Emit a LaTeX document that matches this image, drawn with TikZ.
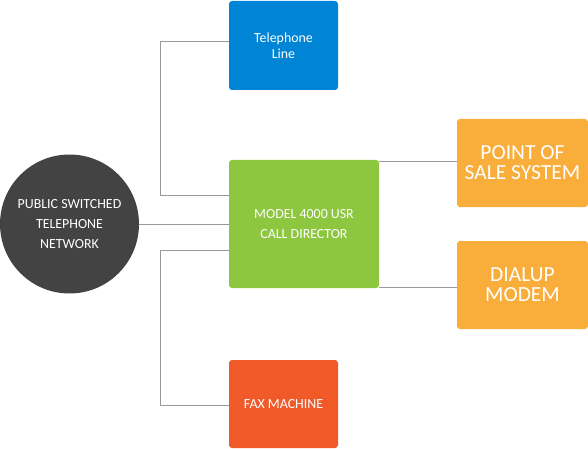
\documentclass[tikz,border=0pt]{standalone}
\usepackage{fontspec}
\setmainfont{Carlito}
\definecolor{cblue}{HTML}{0084D6}
\definecolor{cgreen}{HTML}{8DC63F}
\definecolor{corange}{HTML}{F9AE3B}
\definecolor{cred}{HTML}{F05A28}
\definecolor{cdark}{HTML}{434343}
\definecolor{cline}{HTML}{999999}
\begin{document}
\begin{tikzpicture}[x=1pt,y=-1pt,
  box/.style={draw=none,rounded corners=3pt,inner sep=0pt,align=center,text=white},
  small/.style={font=\fontsize{13.9}{20}\selectfont},
  big/.style={font=\fontsize{21.5}{20}\selectfont},
  conn/.style={draw=cline,line width=1pt}]
\useasboundingbox (0,0) rectangle (588,449);
\node[box,fill=cblue,minimum width=109,minimum height=89,font=\fontsize{13.9}{16}\selectfont] (tel) at (283.5,45.5) {Telephone\\Line};
\node[box,fill=cgreen,minimum width=150,minimum height=128,small] (cd) at (304,224) {MODEL 4000 USR\\CALL DIRECTOR};
\node[box,fill=corange,minimum width=131,minimum height=88,big] (pos) at (522.5,163) {POINT OF\\SALE SYSTEM};
\node[box,fill=corange,minimum width=131,minimum height=88,big] (dm) at (522.5,285) {DIALUP\\MODEM};
\node[box,fill=cred,minimum width=109,minimum height=88,small] (fax) at (283.5,404) {FAX MACHINE};
\node[circle,fill=cdark,minimum size=139,inner sep=0pt,align=center,text=white,small] (ps) at (69.5,224) {PUBLIC SWITCHED\\TELEPHONE\\NETWORK};
\coordinate (k1) at (160.5,42);
\coordinate (k2) at (160.5,195);
\coordinate (k3) at (160.5,250);
\coordinate (k4) at (160.5,405);
\draw[conn] (tel.west |- k1) -- (k1) -- (k2) -- (cd.west |- k2);
\draw[conn] (ps.east) -- (cd.west);
\draw[conn] (cd.west |- k3) -- (k3) -- (k4) -- (fax.west |- k4);
\draw[conn] (cd.east |- 0,162) -- (pos.west |- 0,162);
\draw[conn] (cd.east |- 0,287) -- (dm.west |- 0,287);
\end{tikzpicture}
\end{document}
